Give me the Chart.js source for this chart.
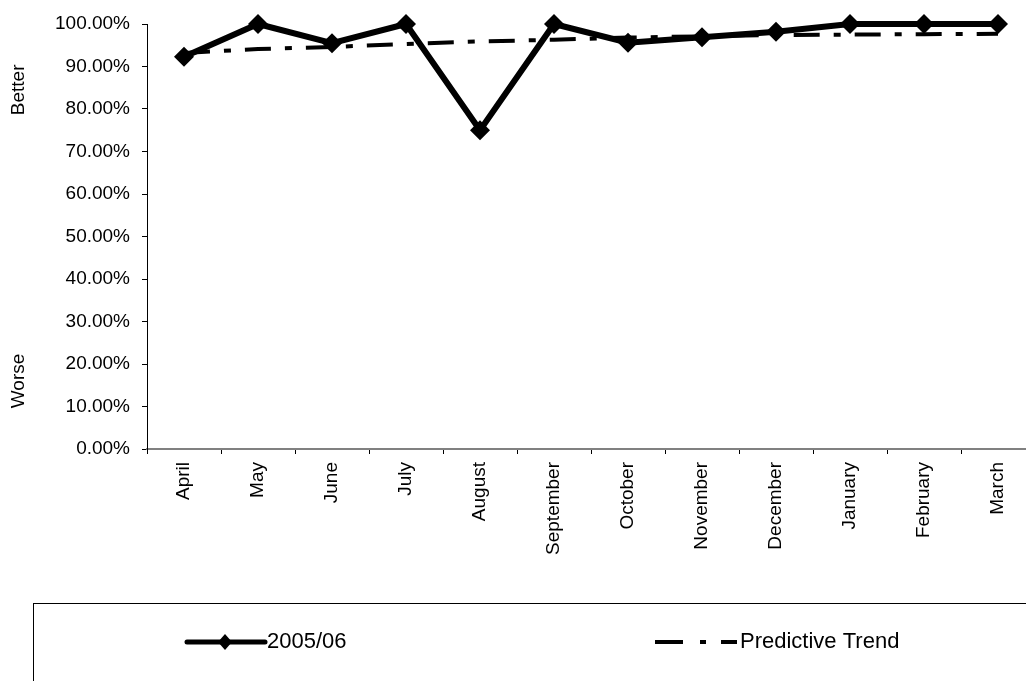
<!DOCTYPE html>
<html>
<head>
<meta charset="utf-8">
<script src="https://cdn.jsdelivr.net/npm/chart.js@4/dist/chart.umd.min.js"></script>
<style>
  html, body { margin: 0; padding: 0; background: #fff; overflow: hidden; }
  #wrap { width: 1045px; height: 681px; }
</style>
</head>
<body>
<div id="wrap"><canvas id="chart" width="1045" height="681"></canvas></div>
<script>
// Months of the 2005/06 year
const months = ['April', 'May', 'June', 'July', 'August', 'September',
                'October', 'November', 'December', 'January', 'February', 'March'];

// Actual performance (%)
const actual = [92.3, 100, 95.5, 100, 75, 100, 95.6, 96.9, 98.2, 100, 100, 100];

// Predictive trend (%)
const trend = [93.2, 94.1, 94.6, 95.3, 95.9, 96.3, 96.8, 97.1, 97.4, 97.5, 97.6, 97.7];

const FONT = "'Liberation Sans', Arial, sans-serif";

// Side titles ("Better" / "Worse") and the boxed legend underneath
const extrasPlugin = {
    id: 'extras',
    afterDraw(chart) {
        const ctx = chart.ctx;
        const y = chart.scales.y;
        ctx.save();
        ctx.fillStyle = '#000';
        ctx.font = '19px ' + FONT;
        ctx.textAlign = 'center';
        ctx.textBaseline = 'middle';
        [['Better', 84.5], ['Worse', 16]].forEach(([txt, v]) => {
            ctx.save();
            ctx.translate(19, y.getPixelForValue(v));
            ctx.rotate(-Math.PI / 2);
            ctx.fillText(txt, 0, 0);
            ctx.restore();
        });

        // legend frame
        ctx.strokeStyle = '#000';
        ctx.lineWidth = 1;
        ctx.strokeRect(33.5, 603.5, 1100, 200);

        const ly = 642;
        // 2005/06 sample
        ctx.beginPath();
        ctx.lineWidth = 5;
        ctx.lineCap = 'round';
        ctx.moveTo(187, ly);
        ctx.lineTo(265, ly);
        ctx.stroke();
        ctx.beginPath();
        ctx.moveTo(225, ly - 8);
        ctx.lineTo(232, ly);
        ctx.lineTo(225, ly + 8);
        ctx.lineTo(218, ly);
        ctx.closePath();
        ctx.fillStyle = '#000';
        ctx.fill();

        // trend sample
        ctx.beginPath();
        ctx.lineWidth = 4;
        ctx.lineCap = 'butt';
        ctx.setLineDash([28, 17, 6, 15]);
        ctx.moveTo(655, ly);
        ctx.lineTo(737, ly);
        ctx.stroke();
        ctx.setLineDash([]);

        ctx.font = '22px ' + FONT;
        ctx.textAlign = 'left';
        ctx.fillText('2005/06', 267, ly);
        ctx.fillText('Predictive Trend', 740, ly);
        ctx.restore();
    }
};

new Chart(document.getElementById('chart'), {
    type: 'line',
    data: {
        labels: months,
        datasets: [
            {
                label: '2005/06',
                data: actual,
                borderColor: '#000',
                backgroundColor: '#000',
                borderWidth: 6,
                pointStyle: 'rectRot',
                pointRadius: 10,
                pointBorderWidth: 0,
                tension: 0,
                clip: false,
                order: 0
            },
            {
                label: 'Predictive Trend',
                data: trend,
                borderColor: '#000',
                borderWidth: 4,
                borderDash: [26, 14, 7, 14],
                pointRadius: 0,
                tension: 0,
                clip: false,
                order: 1
            }
        ]
    },
    options: {
        responsive: false,
        animation: false,
        layout: { padding: { left: 0, top: 24, right: 10, bottom: 0 } },
        plugins: {
            legend: { display: false },
            tooltip: { enabled: false }
        },
        scales: {
            x: {
                offset: true,
                afterFit: s => { s.height = 232; },
                border: { color: '#808080', width: 2 },
                grid: { offset: true, drawOnChartArea: false, tickLength: 5, color: '#000' },
                ticks: {
                    minRotation: 90,
                    maxRotation: 90,
                    padding: 8,
                    color: '#000',
                    font: { family: FONT, size: 19 }
                }
            },
            y: {
                min: 0,
                max: 100,
                afterFit: s => { s.width = 147; },
                border: { color: '#000', width: 1 },
                grid: { drawOnChartArea: false, tickLength: 5, color: '#000' },
                ticks: {
                    stepSize: 10,
                    padding: 12,
                    color: '#000',
                    font: { family: FONT, size: 19 },
                    callback: v => v.toFixed(2) + '%'
                }
            }
        }
    },
    plugins: [extrasPlugin]
});
</script>
</body>
</html>
